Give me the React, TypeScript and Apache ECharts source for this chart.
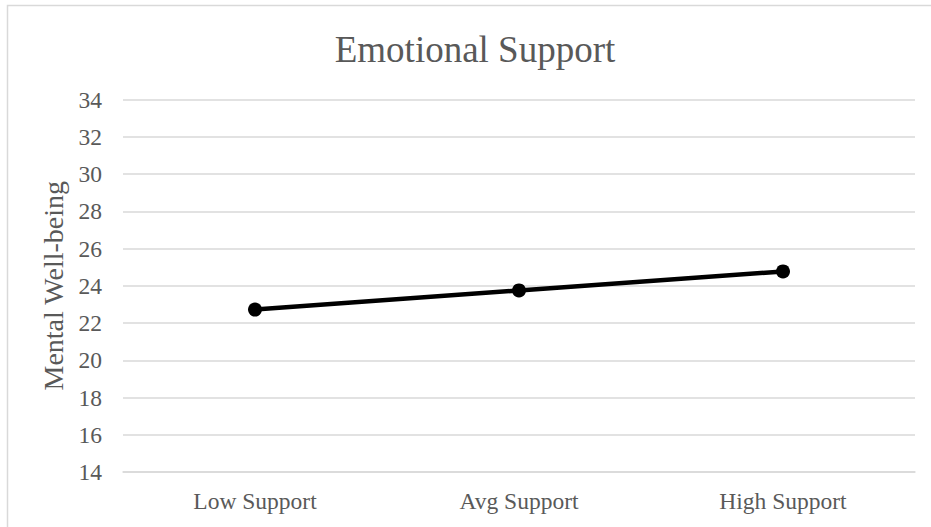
import React, { useEffect, useRef } from "react";
import * as echarts from "echarts";

// Chart content
const chartTitle = "Emotional Support";
const yAxisTitle = "Mental Well-being";
const categories = ["Low Support", "Avg Support", "High Support"];
const wellBeing = [22.72, 23.75, 24.77];
const yMin = 14;
const yMax = 34;
const yStep = 2;

const FONT = "'Liberation Serif', 'Times New Roman', serif";
const TEXT_GRAY = "#595959";
const GRID_GRAY = "#d9d9d9";

export default function App() {
  const ref = useRef<HTMLDivElement>(null);

  useEffect(() => {
    if (!ref.current) return;
    const chart = echarts.init(ref.current, undefined, { renderer: "svg" });
    chart.setOption({
      animation: false,
      backgroundColor: "#ffffff",
      grid: { left: 123, right: 16, top: 99.5, bottom: 55 },
      graphic: [
        {
          type: "rect",
          shape: { x: 7.5, y: 5.5, width: 1000, height: 1000 },
          style: { fill: "none", stroke: GRID_GRAY, lineWidth: 1.5 },
          silent: true,
        },
        {
          type: "text",
          x: 475,
          y: 49,
          style: {
            text: chartTitle,
            font: `37px ${FONT}`,
            fill: TEXT_GRAY,
            textAlign: "center",
            textVerticalAlign: "middle",
          },
        },
      ],
      xAxis: {
        type: "category",
        data: categories,
        boundaryGap: true,
        axisLine: { show: true, lineStyle: { color: GRID_GRAY, width: 1.5 } },
        axisTick: { show: false },
        axisLabel: {
          margin: 17,
          color: TEXT_GRAY,
          fontFamily: FONT,
          fontSize: 23.5,
        },
      },
      yAxis: {
        type: "value",
        min: yMin,
        max: yMax,
        interval: yStep,
        name: yAxisTitle,
        nameLocation: "middle",
        nameGap: 54,
        nameRotate: 90,
        nameTextStyle: { color: TEXT_GRAY, fontFamily: FONT, fontSize: 28 },
        axisLine: { show: false },
        axisTick: { show: false },
        axisLabel: {
          margin: 21,
          color: TEXT_GRAY,
          fontFamily: FONT,
          fontSize: 23.5,
        },
        splitLine: { lineStyle: { color: GRID_GRAY, width: 1.5 } },
      },
      series: [
        {
          type: "line",
          data: wellBeing,
          symbol: "circle",
          symbolSize: 14,
          itemStyle: { color: "#000000" },
          lineStyle: { color: "#000000", width: 4.5 },
        },
      ],
    });
    return () => chart.dispose();
  }, []);

  return (
    <div
      ref={ref}
      style={{ position: "absolute", left: 0, top: 0, width: 931, height: 527 }}
    />
  );
}
